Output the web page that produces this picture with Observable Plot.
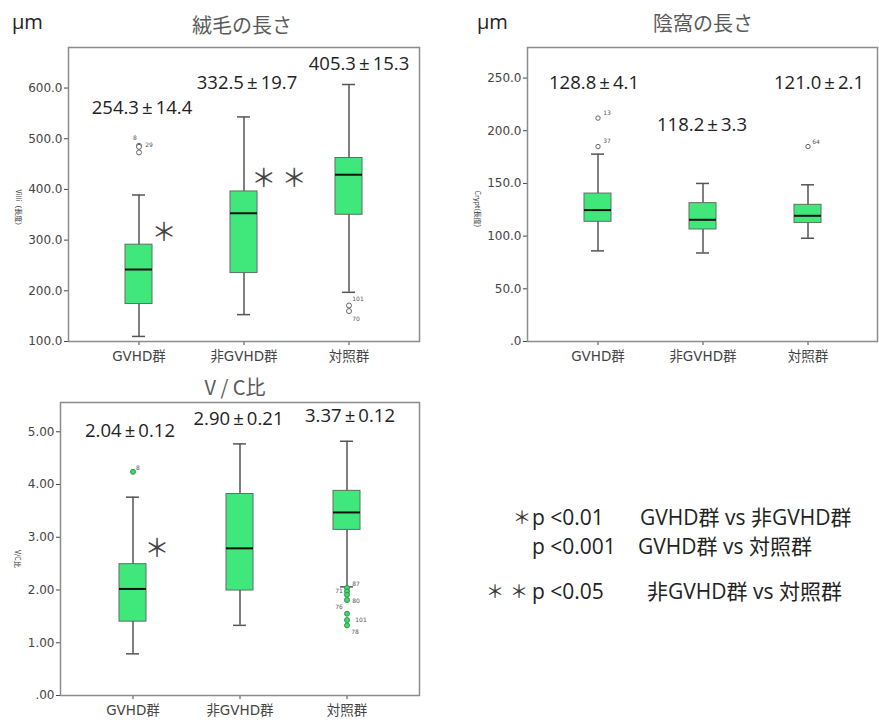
<!DOCTYPE html>
<html><head><meta charset="utf-8">
<script src="https://cdn.jsdelivr.net/npm/d3@7"></script>
<script src="https://cdn.jsdelivr.net/npm/@observablehq/plot@0.6"></script>
<style>
body{margin:0;background:#fff;}
#root{position:relative;width:879px;height:722px;overflow:hidden;background:#fff;font-family:"Open Sans","Noto Sans CJK JP",sans-serif;}
.abs{position:absolute;white-space:nowrap;line-height:1;}
.title{font-size:20px;color:#5a5a5a;transform:translate(-50%,-50%);font-family:"Noto Sans CJK JP","Open Sans",sans-serif;}
.unit{font-size:20px;color:#222;transform:translateY(-50%);}
.leg{font-size:21px;color:#222;transform:translateY(-50%);}
.ast{font-family:"Noto Sans CJK JP",sans-serif;font-size:18px;color:#333;}
svg.bx g[aria-label^="x-axis"] text{font-size:13.5px;}
svg.bx g[aria-label^="y-axis"] text{font-size:12px;}
</style>
</head><body><div id="root"></div>
<script>
const groups = ["GVHD群", "非GVHD群", "対照群"];

// 絨毛の長さ (Villi)
const villiLow  = [110, 153, 197];
const villiQ1   = [174, 235, 350];
const villiMed  = [242, 353, 429];
const villiQ3   = [291, 396, 462];
const villiHigh = [389, 543, 607];
const villiMean = ["254.3", "332.5", "405.3"];
const villiSE   = ["14.4", "19.7", "15.3"];
const villiOutGroup = ["GVHD群", "GVHD群", "GVHD群", "対照群", "対照群"];
const villiOutValue = [486, 484, 473, 171, 160];
const villiOutLabel = ["8", "29", "", "101", "70"];
const villiTicks = [100, 200, 300, 400, 500, 600];

// 陰窩の長さ (Crypt)
const cryptLow  = [86, 84, 98];
const cryptQ1   = [113.6, 106.3, 112.4];
const cryptMed  = [124.7, 115.5, 119.3];
const cryptQ3   = [140.4, 131.3, 129.7];
const cryptHigh = [177.8, 150, 148.7];
const cryptMean = ["128.8", "118.2", "121.0"];
const cryptSE   = ["4.1", "3.3", "2.1"];
const cryptOutGroup = ["GVHD群", "GVHD群", "対照群"];
const cryptOutValue = [212, 185, 185];
const cryptOutLabel = ["13", "37", "64"];
const cryptTicks = [0, 50, 100, 150, 200, 250];

// V / C比
const vcLow  = [0.79, 1.33, 2.06];
const vcQ1   = [1.40, 1.99, 3.14];
const vcMed  = [2.02, 2.79, 3.47];
const vcQ3   = [2.49, 3.82, 3.88];
const vcHigh = [3.76, 4.77, 4.82];
const vcMean = ["2.04", "2.90", "3.37"];
const vcSE   = ["0.12", "0.21", "0.12"];
const vcOutGroup = ["GVHD群", "対照群", "対照群", "対照群", "対照群", "対照群", "対照群", "対照群"];
const vcOutValue = [4.24, 2.04, 1.975, 1.91, 1.81, 1.55, 1.43, 1.33];
const vcOutLabel = ["8", "87", "71", "", "80", "76", "101", "78"];
const vcTicks = [0, 1, 2, 3, 4, 5];

// layout (offsets, positions)
const villiOutOff = [[-4,-8],[10,-2],[0,0],[9,-6],[7,8]];
const cryptOutOff = [[9,-5],[9,-5],[8,-4]];
const vcOutOff = [[5,-4],[9,-4],[-8,0],[0,0],[9,1],[-8,-7],[14,0],[8,7]];

const root = document.getElementById("root");

function boxChart(cfg) {
  const rows = groups.map((g, i) => ({
    g, lo: cfg.lo[i], q1: cfg.q1[i], med: cfg.med[i], q3: cfg.q3[i], hi: cfg.hi[i],
    stat: cfg.mean[i] + "\u2009±\u2009" + cfg.se[i], sy: cfg.statY[i], sdx: cfg.statDx[i]
  }));
  const outs = cfg.outGroup.map((g, i) => ({g, v: cfg.outValue[i], label: cfg.outLabel[i], dx: cfg.outOff[i][0], dy: cfg.outOff[i][1]}));
  const marks = [
    Plot.ruleX(rows, {x: "g", y1: "lo", y2: "hi", stroke: "#555", strokeWidth: 1.5}),
    Plot.tickY(rows, {x: "g", y: "lo", stroke: "#555", strokeWidth: 1.5, insetLeft: 7, insetRight: 7}),
    Plot.tickY(rows, {x: "g", y: "hi", stroke: "#555", strokeWidth: 1.5, insetLeft: 7, insetRight: 7}),
    Plot.barY(rows, {x: "g", y1: "q1", y2: "q3", fill: "#40e87c", stroke: "#5f6f64", strokeWidth: 1}),
    Plot.tickY(rows, {x: "g", y: "med", stroke: "#111", strokeWidth: 2}),
    Plot.dot(outs, {x: "g", y: "v", r: cfg.dotR, fill: cfg.dotFill, stroke: cfg.dotStroke, strokeWidth: 1}),
    ...outs.filter(o => o.label).map(o => Plot.text([o], {x: "g", y: "v", text: "label", dx: o.dx, dy: o.dy, fontSize: 6, fill: "#555", fontFamily: "DejaVu Sans"})),
    ...rows.map(r => Plot.text([r], {x: "g", y: "sy", text: "stat", dx: r.sdx, fontSize: 18.5, fill: "#222", fontFamily: "Open Sans"})),
    ...cfg.sig.map(s => Plot.text([s], {x: "g", y: "v", text: "t", dx: s.dx, fontSize: 25, fill: "#444", fontFamily: "Noto Sans CJK JP"})),
    Plot.text([cfg.ylabel], {text: d => d, frameAnchor: "left", rotate: 90, dx: cfg.ylabelDx, dy: cfg.ylabelDy, fontSize: 7, fill: "#333", fontFamily: "Noto Sans CJK JP"}),
    Plot.frame({stroke: "#8c8c8c", strokeWidth: 1.5})
  ];
  const svg = Plot.plot({
    width: cfg.width, height: cfg.height,
    marginLeft: cfg.m[0], marginRight: cfg.m[1], marginTop: cfg.m[2], marginBottom: cfg.m[3],
    className: "bx",
    style: {fontFamily: "DejaVu Sans, 'Noto Sans CJK JP', sans-serif", color: "#444", background: "transparent"},
    x: {type: "band", domain: groups, paddingInner: 0.744, paddingOuter: 0.535, label: null, tickSize: 4, tickPadding: 6},
    y: {domain: cfg.yDomain, ticks: cfg.ticks, tickFormat: cfg.fmt, label: null, tickSize: 4, tickPadding: 2},
    marks
  });
  svg.style.position = "absolute";
  svg.style.left = cfg.left + "px";
  svg.style.top = cfg.top + "px";
  root.appendChild(svg);
}

boxChart({
  left: 0, top: 0, width: 430, height: 375, m: [68, 11, 47, 34],
  yDomain: [100, 680], ticks: villiTicks, fmt: d => d.toFixed(1),
  lo: villiLow, q1: villiQ1, med: villiMed, q3: villiQ3, hi: villiHigh, mean: villiMean, se: villiSE,
  statY: [561, 610, 647], statDx: [3, 3, 10],
  outGroup: villiOutGroup, outValue: villiOutValue, outLabel: villiOutLabel, outOff: villiOutOff,
  dotR: 2.5, dotFill: "white", dotStroke: "#666",
  sig: [{g: "GVHD群", v: 315, t: "＊", dx: 25}, {g: "非GVHD群", v: 421, t: "＊ ＊", dx: 35}],
  ylabel: "Villi（長度）", ylabelDx: -50, ylabelDy: -5
});

boxChart({
  left: 440, top: 0, width: 439, height: 375, m: [87, 2, 47, 34],
  yDomain: [0, 279], ticks: cryptTicks, fmt: d => d === 0 ? ".0" : d.toFixed(1),
  lo: cryptLow, q1: cryptQ1, med: cryptMed, q3: cryptQ3, hi: cryptHigh, mean: cryptMean, se: cryptSE,
  statY: [245, 205, 245], statDx: [-4, -1, 11],
  outGroup: cryptOutGroup, outValue: cryptOutValue, outLabel: cryptOutLabel, outOff: cryptOutOff,
  dotR: 2.2, dotFill: "white", dotStroke: "#666",
  sig: [],
  ylabel: "Crypt(長度)", ylabelDx: -50, ylabelDy: -4
});

boxChart({
  left: 0, top: 375, width: 430, height: 347, m: [60, 11, 27, 27],
  yDomain: [0, 5.555], ticks: vcTicks, fmt: d => d === 0 ? ".00" : d.toFixed(2),
  lo: vcLow, q1: vcQ1, med: vcMed, q3: vcQ3, hi: vcHigh, mean: vcMean, se: vcSE,
  statY: [5.02, 5.25, 5.30], statDx: [-3, -1.5, 3],
  outGroup: vcOutGroup, outValue: vcOutValue, outLabel: vcOutLabel, outOff: vcOutOff,
  dotR: 2.5, dotFill: "#3fd870", dotStroke: "#2a9a4a",
  sig: [{g: "GVHD群", v: 2.78, t: "＊", dx: 24}],
  ylabel: "V/C比", ylabelDx: -43, ylabelDy: 1
});

// titles, units, legend (HTML text)
const texts = [
  {cls: "title", x: 242, y: 25, t: "絨毛の長さ"},
  {cls: "title", x: 703, y: 23, t: "陰窩の長さ"},
  {cls: "title", x: 235, y: 387, t: "V / C比"},
  {cls: "unit", x: 12, y: 22, t: "μm"},
  {cls: "unit", x: 477, y: 22, t: "μm"},
  {cls: "leg ast", x: 513, y: 516, t: "＊"},
  {cls: "leg", x: 532, y: 517, t: "p <0.01"},
  {cls: "leg", x: 640, y: 517, t: "GVHD群 vs 非GVHD群"},
  {cls: "leg", x: 532, y: 546, t: "p <0.001"},
  {cls: "leg", x: 638, y: 546, t: "GVHD群 vs 対照群"},
  {cls: "leg ast", x: 486, y: 590, t: "＊"},
  {cls: "leg ast", x: 510, y: 590, t: "＊"},
  {cls: "leg", x: 532, y: 591, t: "p <0.05"},
  {cls: "leg", x: 647, y: 591, t: "非GVHD群 vs 対照群"}
];
for (const d of texts) {
  const el = document.createElement("div");
  el.className = "abs " + d.cls;
  el.style.left = d.x + "px";
  el.style.top = d.y + "px";
  el.textContent = d.t;
  root.appendChild(el);
}
</script>
</body></html>
